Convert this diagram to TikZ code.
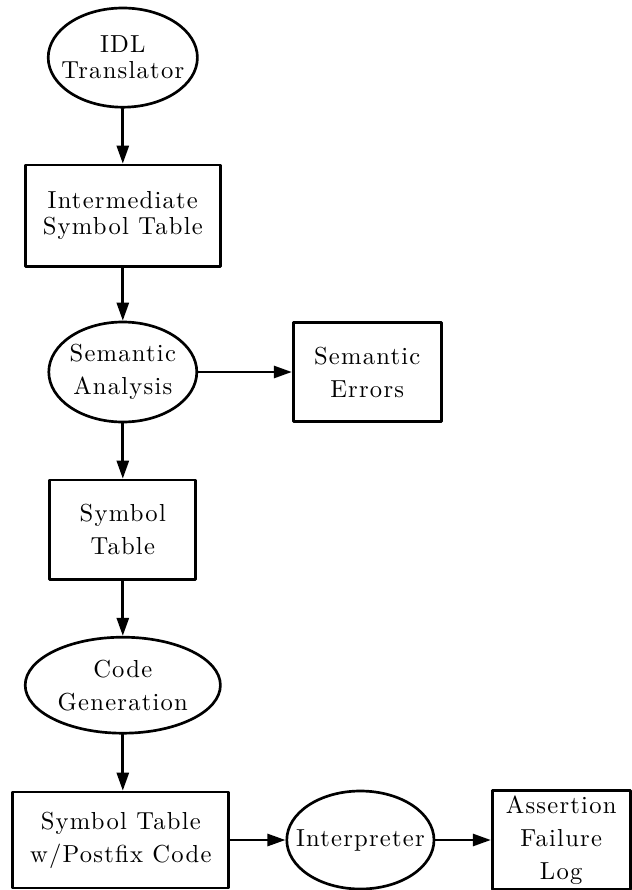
\documentclass[tikz,border=0pt]{standalone}
\usepackage{fontspec}
\newfontfamily\boxfont{lmroman10-regular.otf}[LetterSpace=5]
\usetikzlibrary{shapes.geometric,arrows.meta}
\begin{document}
\begin{tikzpicture}[line join = round, line cap = round, >={Triangle[length=4.5mm,width=3mm]}, line width=1.9pt,
	font=\boxfont\fontsize{17.5}{23.5}\selectfont,
	box/.style={draw, rectangle, inner sep=0pt, align=center},
	ell/.style={draw, ellipse, inner sep=-6mm, align=center},
	tight/.style={font=\boxfont\fontsize{17.5}{18.5}\selectfont}]
	%\draw[help lines] (0,0) grid (16,-23);
	\useasboundingbox (0,0) rectangle (15.8,-22.25);
	\node[ell, tight, minimum width=3.73cm, minimum height=2.48cm] (idl) at (3.07,-1.44) {IDL\\Translator};
	\node[box, tight, minimum width=4.88cm, minimum height=2.53cm] (ist) at (3.07,-5.39) {Intermediate\\Symbol Table};
	\node[ell, minimum width=3.7cm, minimum height=2.5cm] (sa) at (3.07,-9.3) {Semantic\\Analysis};
	\node[box, minimum width=3.7cm, minimum height=2.48cm] (se) at (9.18,-9.3) {Semantic\\Errors};
	\node[box, minimum width=3.65cm, minimum height=2.48cm] (st) at (3.07,-13.24) {Symbol\\Table};
	\node[ell, minimum width=4.88cm, minimum height=2.4cm] (cg) at (3.07,-17.13) {Code\\Generation};
	\node[box, minimum width=5.4cm, minimum height=2.4cm] (pf) at (3.02,-21.0) {Symbol Table\\w/Postfix Code};
	\node[ell, minimum width=3.68cm, minimum height=2.45cm] (int) at (9.01,-21.0) {Interpreter};
	\node[box, minimum width=3.45cm, minimum height=2.48cm] (afl) at (14.03,-21.0) {Assertion\\Failure\\Log};
	\draw[->] (idl) -- (ist);
	\draw[->] (ist) -- (sa);
	\draw[->] (sa) -- (se);
	\draw[->] (sa) -- (st);
	\draw[->] (st) -- (cg);
	\draw[->] (cg) -- (cg |- pf.north);
	\draw[->] (pf) -- (int);
	\draw[->] (int) -- (afl);
\end{tikzpicture}
\end{document}
